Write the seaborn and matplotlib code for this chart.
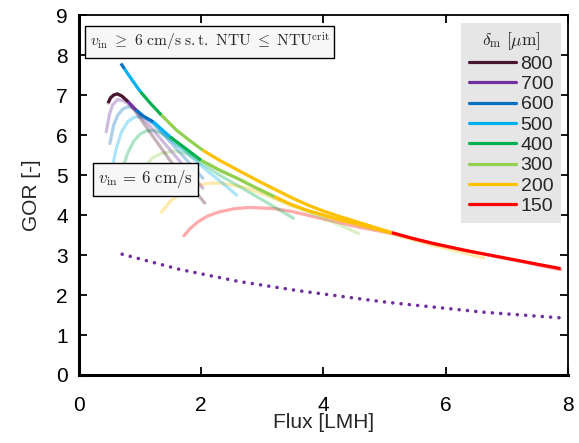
import numpy as np
import pandas as pd
import matplotlib
matplotlib.use("Agg")
import matplotlib.pyplot as plt
from matplotlib.lines import Line2D
import seaborn as sns

# ---------------- data ----------------
thickness = [800, 700, 600, 500, 400, 300, 200, 150]
colors = ["#4a1530", "#7030a0", "#0070c0", "#00b0f0", "#00b050", "#92d050", "#ffc000", "#ff0000"]

# v_in = 6 cm/s curves (pale)
flux_800 = [0.48, 0.52, 0.57, 0.63, 0.72, 0.81, 0.90, 1.03, 1.49, 2.06]
gor_800 = [6.80, 6.93, 7.00, 7.03, 6.96, 6.83, 6.65, 6.36, 5.37, 4.30]
flux_700 = [0.45, 0.50, 0.55, 0.64, 0.72, 0.81, 0.94, 1.22, 1.65, 2.03]
gor_700 = [6.08, 6.50, 6.75, 6.89, 6.86, 6.78, 6.60, 6.12, 5.35, 4.67]
flux_600 = [0.51, 0.57, 0.64, 0.72, 0.81, 0.92, 1.05, 1.22, 1.50, 1.75, 2.03]
gor_600 = [5.79, 6.25, 6.50, 6.65, 6.71, 6.66, 6.48, 6.28, 5.82, 5.40, 4.92]
flux_500 = [0.55, 0.62, 0.70, 0.80, 0.90, 0.98, 1.10, 1.22, 1.49, 1.80, 2.09, 2.35, 2.58]
gor_500 = [5.21, 5.70, 6.08, 6.33, 6.44, 6.46, 6.42, 6.30, 5.90, 5.50, 5.12, 4.80, 4.50]
flux_400 = [0.73, 0.80, 0.90, 1.00, 1.10, 1.22, 1.35, 1.49, 1.75, 2.00, 2.30, 2.63, 3.00, 3.51]
gor_400 = [5.21, 5.55, 5.85, 6.02, 6.10, 6.12, 6.05, 5.90, 5.60, 5.30, 5.00, 4.71, 4.38, 3.92]
flux_300 = [1.08, 1.20, 1.35, 1.57, 1.80, 2.00, 2.25, 2.63, 3.18, 3.60, 4.00, 4.30, 4.57]
gor_300 = [5.21, 5.42, 5.54, 5.60, 5.52, 5.37, 5.18, 4.89, 4.44, 4.17, 3.92, 3.73, 3.54]
flux_200 = [1.35, 1.50, 1.70, 1.90, 2.10, 2.30, 2.70, 3.13, 3.50, 4.00, 4.50, 5.12, 5.80, 6.30, 6.62]
gor_200 = [4.07, 4.35, 4.58, 4.72, 4.79, 4.80, 4.70, 4.46, 4.22, 3.98, 3.78, 3.53, 3.24, 3.05, 2.93]
flux_150 = [1.72, 1.82, 1.95, 2.10, 2.30, 2.55, 2.80, 3.20, 3.51, 4.00, 4.60, 5.12, 5.80, 6.34, 7.16, 7.88]
gor_150 = [3.48, 3.66, 3.83, 3.97, 4.08, 4.16, 4.19, 4.16, 4.08, 3.90, 3.69, 3.54, 3.27, 3.11, 2.86, 2.63]

# upper envelope (v_in >= 6 cm/s s.t. NTU <= NTU_crit), segments by thickness
upper_flux = [0.69, 0.75, 0.88, 1.01, 1.18, 1.35, 1.60, 1.80, 2.03, 2.30, 2.63, 3.00, 3.29, 3.50, 3.73, 4.00, 4.27, 4.55, 4.82, 5.12, 5.45, 5.80, 6.34, 6.75, 7.16, 7.50, 7.88]
upper_gor = [7.79, 7.65, 7.36, 7.08, 6.78, 6.50, 6.12, 5.88, 5.62, 5.37, 5.10, 4.80, 4.58, 4.42, 4.26, 4.10, 3.96, 3.83, 3.70, 3.56, 3.42, 3.29, 3.11, 2.99, 2.87, 2.77, 2.66]
upper_breaks = [0.69, 0.75, 1.01, 1.35, 2.03, 5.12, 7.88]
upper_delta = [600, 500, 400, 300, 200, 150]

# lower envelope
lower_flux = [0.48, 0.52, 0.57, 0.63, 0.70, 0.81, 0.94, 1.05, 1.22, 1.35, 1.49, 1.75, 2.00, 2.30, 2.63, 2.90, 3.20, 3.45, 3.73, 4.00, 4.27, 4.55, 4.80, 5.12]
lower_gor = [6.80, 6.93, 7.00, 7.03, 6.98, 6.83, 6.62, 6.48, 6.33, 6.15, 5.96, 5.66, 5.37, 5.12, 4.89, 4.68, 4.46, 4.28, 4.12, 4.00, 3.88, 3.78, 3.68, 3.56]
lower_breaks = [0.48, 0.81, 0.94, 1.22, 1.49, 2.00, 3.20, 5.12]
lower_delta = [800, 700, 600, 500, 400, 300, 200]

# dotted reference curve
dot_flux = [0.71, 1.65, 2.61, 3.58, 4.82, 5.09, 6.62, 7.87]
dot_gor = [3.02, 2.64, 2.34, 2.11, 1.86, 1.81, 1.57, 1.43]

pale = {800: (flux_800, gor_800), 700: (flux_700, gor_700), 600: (flux_600, gor_600),
        500: (flux_500, gor_500), 400: (flux_400, gor_400), 300: (flux_300, gor_300),
        200: (flux_200, gor_200), 150: (flux_150, gor_150)}
cmap = dict(zip(thickness, colors))

# ---------------- plot ----------------
sns.set_style("ticks")
plt.rcParams["font.family"] = ["Liberation Sans", "DejaVu Sans"]
plt.rcParams["mathtext.fontset"] = "cm"

fig = plt.figure(figsize=(5.79, 4.43), dpi=100)
ax = fig.add_axes([0.136, 0.1535, 0.845, 0.8125])

LW = 2.3
for d in [150, 200, 300, 400, 500, 600, 700, 800]:
    fx, gy = pale[d]
    sns.lineplot(x=fx, y=gy, sort=False, estimator=None, color=cmap[d], alpha=0.33,
                 lw=LW, ax=ax, legend=False)

sns.lineplot(x=dot_flux, y=dot_gor, sort=False, estimator=None, color="#7030a0",
             lw=2.6, ax=ax, legend=False, linestyle=(0, (0.01, 2.3)),
             dash_capstyle="round")


def draw_env(fl, gr, breaks, deltas):
    fl = np.array(fl)
    gr = np.array(gr)
    for i, d in enumerate(deltas):
        m = (fl >= breaks[i] - 1e-9) & (fl <= breaks[i + 1] + 1e-9)
        sns.lineplot(x=fl[m], y=gr[m], sort=False, estimator=None, color=cmap[d],
                     lw=LW, ax=ax, legend=False, solid_capstyle="butt")


draw_env(lower_flux, lower_gor, lower_breaks, lower_delta)
draw_env(upper_flux, upper_gor, upper_breaks, upper_delta)

ax.set_xlim(0, 8)
ax.set_ylim(0, 9)
ax.set_xticks([0, 2, 4, 6, 8])
ax.set_yticks(range(0, 10))
ax.tick_params(direction="in", length=6, width=1.3, top=True, right=True,
               labelsize=15, colors="black")
ax.tick_params(axis="x", pad=15)
ax.tick_params(axis="y", pad=8)
ax.set_xlabel("Flux [LMH]", fontsize=15, labelpad=-1)
ax.set_ylabel("GOR [-]", fontsize=15, labelpad=11)
for s in ["left", "bottom"]:
    ax.spines[s].set_linewidth(2.2)
    ax.spines[s].set_color("black")
for s in ["top", "right"]:
    ax.spines[s].set_linewidth(1.3)
    ax.spines[s].set_color("black")

box = dict(boxstyle="square,pad=0.3", facecolor="#f7f7f7", edgecolor="black", lw=1.0)
ax.text(2.14, 8.33,
        r"$v_{\rm in}\ \geq\ 6\ \mathrm{cm/s\ s.t.\ NTU}\ \leq\ \mathrm{NTU}^{\rm crit}$",
        ha="center", va="center", fontsize=11.2, bbox=box)
ax.text(1.09, 4.89, r"$v_{\rm in}\, =\, 6\ \mathrm{cm/s}$", ha="center", va="center",
        fontsize=12.2, bbox=box)

handles = [Line2D([0], [0], color=c, lw=2.3) for c in colors]
leg = ax.legend(handles, [str(t) for t in thickness], loc="upper right",
                bbox_to_anchor=(0.986, 0.978), borderaxespad=0, fontsize=14,
                title=r"$\delta_{\rm m}\ [\mu\mathrm{m}]$", title_fontsize=12.5,
                frameon=True, fancybox=False, framealpha=1, facecolor="#e6e6e6",
                edgecolor="none", handlelength=2.4, handletextpad=0.25,
                labelspacing=0.14, borderpad=0.4)

fig.savefig("out.png", dpi=100)
